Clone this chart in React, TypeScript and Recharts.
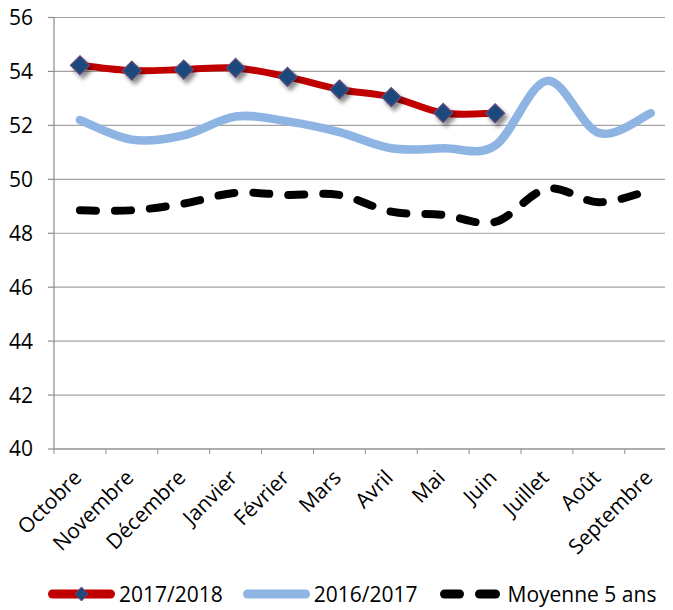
import React from 'react';
import { LineChart, Line, XAxis, YAxis, CartesianGrid, Legend } from 'recharts';

// values
const MONTHS = [
  'Octobre', 'Novembre', 'Décembre', 'Janvier', 'Février', 'Mars',
  'Avril', 'Mai', 'Juin', 'Juillet', 'Août', 'Septembre',
];
const SEASON_2017_2018 = [54.23, 54.03, 54.07, 54.13, 53.8, 53.33, 53.05, 52.46, 52.45, null, null, null];
const SEASON_2016_2017 = [52.2, 51.47, 51.63, 52.33, 52.15, 51.75, 51.15, 51.15, 51.25, 53.65, 51.72, 52.45];
const AVERAGE_5_YEARS = [48.85, 48.85, 49.1, 49.5, 49.42, 49.42, 48.8, 48.68, 48.42, 49.65, 49.15, 49.6];
const Y_TICKS = [40, 42, 44, 46, 48, 50, 52, 54, 56];

const FONT = "'Open Sans', sans-serif";
const AXIS = '#8C8C8C';
const GRID = '#A3A3A3';
const RED = '#C00000';
const BLUE = '#8DB4E2';

const CHART_W = 680;
const CHART_H = 610;
const Y_AXIS_W = 46;
const MARGIN = { top: 17.5, right: 11.3, left: 0, bottom: 1 };
const PLOT_W = CHART_W - MARGIN.left - MARGIN.right - Y_AXIS_W;
const BAND = PLOT_W / MONTHS.length;

const data = MONTHS.map((month, i) => ({
  month,
  s1718: SEASON_2017_2018[i],
  s1617: SEASON_2016_2017[i],
  avg5: AVERAGE_5_YEARS[i],
}));

// Excel-like smoothed line (Catmull-Rom through the points)
const excelCurve = (context: any) => {
  let pts: [number, number][] = [];
  return {
    areaStart() {},
    areaEnd() {},
    lineStart() {
      pts = [];
    },
    lineEnd() {
      const n = pts.length;
      if (!n) return;
      context.moveTo(pts[0][0], pts[0][1]);
      if (n === 1) {
        context.lineTo(pts[0][0], pts[0][1]);
        return;
      }
      for (let i = 0; i < n - 1; i++) {
        const p0 = pts[Math.max(i - 1, 0)];
        const p1 = pts[i];
        const p2 = pts[i + 1];
        const p3 = pts[Math.min(i + 2, n - 1)];
        context.bezierCurveTo(
          p1[0] + (p2[0] - p0[0]) / 6,
          p1[1] + (p2[1] - p0[1]) / 6,
          p2[0] - (p3[0] - p1[0]) / 6,
          p2[1] - (p3[1] - p1[1]) / 6,
          p2[0],
          p2[1],
        );
      }
    },
    point(x: number, y: number) {
      pts.push([+x, +y]);
    },
  };
};

const Diamond = (props: any) => {
  const { cx, cy, value, index } = props;
  if (cx == null || cy == null || value == null) return <g key={`d-${index}`} />;
  const r = 9.5;
  return (
    <path
      key={`d-${index}`}
      d={`M${cx},${cy - r}L${cx + r},${cy}L${cx},${cy + r}L${cx - r},${cy}Z`}
      fill="#1F497D"
      stroke="#604A7B"
      strokeWidth={1.2}
      filter="url(#dotShadow)"
    />
  );
};

const MonthTick = (props: any) => {
  const { x, y, payload, index } = props;
  const tx = x + 3;
  const ty = y + 30;
  return (
    <g>
      <line x1={x - BAND / 2} x2={x - BAND / 2} y1={y} y2={y + 5} stroke={AXIS} />
      {index === MONTHS.length - 1 && (
        <line x1={x + BAND / 2} x2={x + BAND / 2} y1={y} y2={y + 5} stroke={AXIS} />
      )}
      <text
        x={tx}
        y={ty}
        transform={`rotate(-45 ${tx} ${ty})`}
        textAnchor="end"
        fontSize={21}
        fontFamily={FONT}
        fill="#000"
      >
        {payload.value}
      </text>
    </g>
  );
};

const LegendIcon = ({ kind }: { kind: string }) => {
  if (kind === 's1718') {
    return (
      <svg width={67} height={20}>
        <line x1={4.5} x2={62.5} y1={10} y2={10} stroke={RED} strokeWidth={9} strokeLinecap="round" />
        <path d="M33.5,3L40,10L33.5,17L27,10Z" fill="#1F497D" stroke="#604A7B" strokeWidth={1} />
      </svg>
    );
  }
  if (kind === 's1617') {
    return (
      <svg width={67} height={20}>
        <line x1={4.5} x2={62.5} y1={10} y2={10} stroke={BLUE} strokeWidth={9} strokeLinecap="round" />
      </svg>
    );
  }
  return (
    <svg width={61} height={20}>
      <line x1={4.5} x2={19.5} y1={10} y2={10} stroke="#000" strokeWidth={9} strokeLinecap="round" />
      <line x1={39.5} x2={55.5} y1={10} y2={10} stroke="#000" strokeWidth={9} strokeLinecap="round" />
    </svg>
  );
};

const LEGEND_ITEMS = [
  { key: 's1718', name: '2017/2018', gap: 4, after: 20 },
  { key: 's1617', name: '2016/2017', gap: 4, after: 22 },
  { key: 'avg5', name: 'Moyenne 5 ans', gap: 7, after: 0 },
];

const ChartLegend = () => (
  <div
    style={{
      display: 'flex',
      alignItems: 'center',
      height: 30,
      paddingLeft: 40,
      fontFamily: FONT,
      fontSize: 21,
      color: '#000',
      lineHeight: 1,
    }}
  >
    {LEGEND_ITEMS.map((item) => (
      <div key={item.key} style={{ display: 'flex', alignItems: 'center', marginRight: item.after }}>
        <LegendIcon kind={item.key} />
        <span style={{ marginLeft: item.gap, whiteSpace: 'nowrap' }}>{item.name}</span>
      </div>
    ))}
  </div>
);

export default function App() {
  return (
    <div style={{ marginTop: -8, width: 665, height: CHART_H, overflow: 'hidden' }}>
      <LineChart width={CHART_W} height={CHART_H} data={data} margin={MARGIN}>
        <defs>
          <filter id="dotShadow" x="-60%" y="-60%" width="220%" height="220%">
            <feDropShadow dx="3" dy="4" stdDeviation="2" floodColor="#000" floodOpacity="0.45" />
          </filter>
        </defs>
        <CartesianGrid vertical={false} stroke={GRID} strokeWidth={1.2} />
        <XAxis
          dataKey="month"
          scale="band"
          interval={0}
          height={130}
          tickSize={0}
          tickMargin={0}
          tickLine={false}
          axisLine={{ stroke: AXIS, strokeWidth: 1.2 }}
          tick={<MonthTick />}
        />
        <YAxis
          width={Y_AXIS_W}
          domain={[40, 56]}
          ticks={Y_TICKS}
          interval={0}
          tickSize={6}
          tickMargin={15}
          axisLine={{ stroke: AXIS, strokeWidth: 1.2 }}
          tickLine={{ stroke: AXIS, strokeWidth: 1.2 }}
          tick={{ fill: '#000', fontSize: 21, fontFamily: FONT }}
        />
        <Legend verticalAlign="bottom" align="left" content={<ChartLegend />} />
        <Line
          dataKey="s1617"
          name="2016/2017"
          type={excelCurve as any}
          stroke={BLUE}
          strokeWidth={8.5}
          strokeLinecap="round"
          dot={false}
          activeDot={false}
          isAnimationActive={false}
        />
        <Line
          dataKey="avg5"
          name="Moyenne 5 ans"
          type={excelCurve as any}
          stroke="#000"
          strokeWidth={8}
          strokeDasharray="16 19"
          strokeLinecap="round"
          dot={false}
          activeDot={false}
          isAnimationActive={false}
        />
        <Line
          dataKey="s1718"
          name="2017/2018"
          type={excelCurve as any}
          stroke={RED}
          strokeWidth={7}
          strokeLinecap="round"
          dot={<Diamond />}
          activeDot={false}
          isAnimationActive={false}
        />
      </LineChart>
    </div>
  );
}
